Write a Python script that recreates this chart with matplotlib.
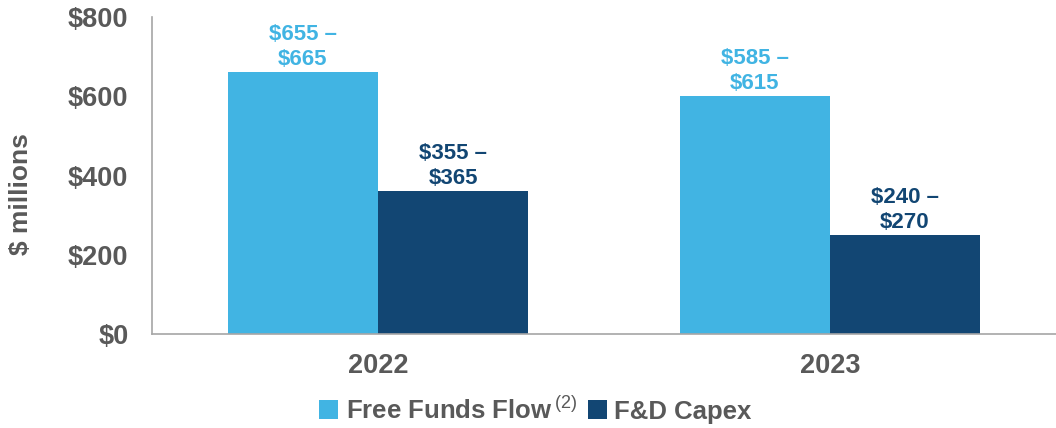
import matplotlib
matplotlib.use("Agg")
import matplotlib.pyplot as plt
import numpy as np

years = ["2022", "2023"]
fff_values = [660, 600]
fd_values = [360, 250]
fff_labels = ["$655 –\n$665", "$585 –\n$615"]
fd_labels = ["$355 –\n$365", "$240 –\n$270"]
yticks = [0, 200, 400, 600, 800]
ytick_labels = ["$0", "$200", "$400", "$600", "$800"]

plt.rcParams['font.family'] = ['Liberation Sans', 'DejaVu Sans']
plt.rcParams['mathtext.fontset'] = 'custom'
plt.rcParams['mathtext.rm'] = 'Liberation Sans'
plt.rcParams['mathtext.bf'] = 'Liberation Sans:bold'
plt.rcParams['mathtext.it'] = 'Liberation Sans:italic'

LIGHT = "#41B4E3"
DARK = "#124673"
GREY = "#595959"

fig = plt.figure(figsize=(10.56, 4.28), dpi=100)
ax = fig.add_axes([0.1439, 0.2196, 0.8561, 0.7407])

x = np.arange(len(years))
w = 0.332
b1 = ax.bar(x - w / 2, fff_values, w, color=LIGHT, label="Free Funds Flow$\\,^{(2)}$")
b2 = ax.bar(x + w / 2, fd_values, w, color=DARK, label="F&D Capex")

for xi, v, t in zip(x - w / 2, fff_values, fff_labels):
    ax.annotate(t, (xi, v), xytext=(0, 1.5), textcoords="offset points",
                ha="center", va="bottom", fontsize=16, fontweight="bold",
                color=LIGHT, linespacing=1.27)
for xi, v, t in zip(x + w / 2, fd_values, fd_labels):
    ax.annotate(t, (xi, v), xytext=(0, 1.5), textcoords="offset points",
                ha="center", va="bottom", fontsize=16, fontweight="bold",
                color=DARK, linespacing=1.27)

ax.set_xlim(-0.5, 1.5)
ax.set_ylim(0, 800)
ax.set_xticks(x)
ax.set_xticklabels(years, fontsize=19.5, fontweight="bold", color=GREY)
ax.set_yticks(yticks)
ax.set_yticklabels(ytick_labels, fontsize=19.5, fontweight="bold", color=GREY)
ax.tick_params(axis="x", length=0, pad=14)
ax.tick_params(axis="y", length=0, pad=17)

for s in ["top", "right"]:
    ax.spines[s].set_visible(False)
for s in ["left", "bottom"]:
    ax.spines[s].set_color("#A6A6A6")
    ax.spines[s].set_linewidth(1.2)

ax.set_ylabel("$ millions", fontsize=19, fontweight="bold", color=GREY)
ax.yaxis.set_label_coords(-0.132, 0.44)

leg = fig.legend(handles=[b1, b2], loc="center", bbox_to_anchor=(0.507, 0.042),
                 ncol=2, frameon=False, handlelength=0.75, handleheight=0.75,
                 handletextpad=0.3, columnspacing=0.4,
                 prop={"size": 18.5, "weight": "bold"})
for t in leg.get_texts():
    t.set_color(GREY)

fig.savefig("out.png", dpi=100)
